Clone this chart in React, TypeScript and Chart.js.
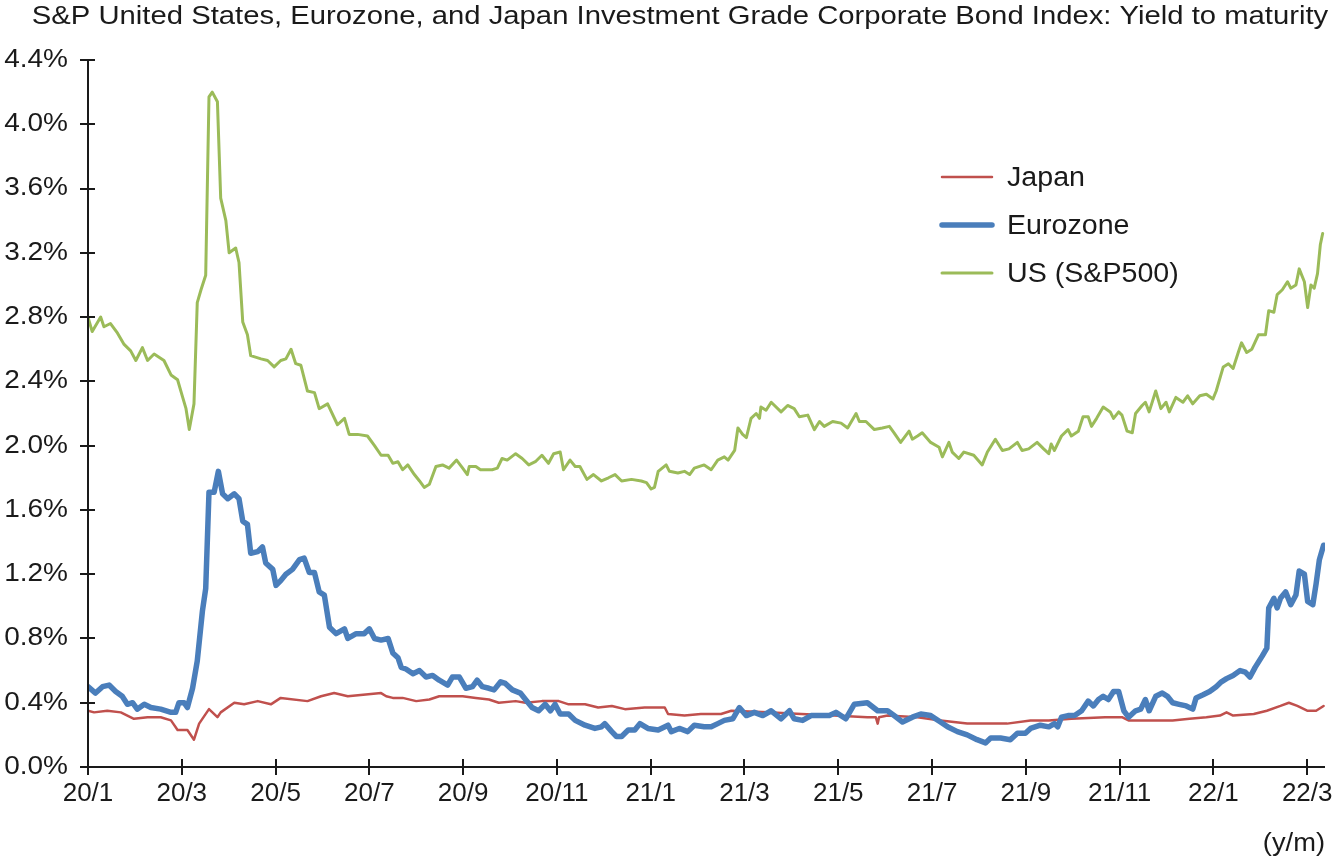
import { useEffect, useRef } from 'react';
import { Chart, registerables } from 'chart.js';

Chart.register(...registerables);

const TITLE = 'S&P United States, Eurozone, and Japan Investment Grade Corporate Bond Index: Yield to maturity';
const X_UNIT = '(y/m)';
const FONT = '"Liberation Sans", Arial, Helvetica, sans-serif';

const tickMonths = [0, 2, 4, 6, 8, 10, 12, 14, 16, 18, 20, 22, 24, 26];
const tickLabels = ['20/1', '20/3', '20/5', '20/7', '20/9', '20/11', '21/1', '21/3', '21/5', '21/7', '21/9', '21/11', '22/1', '22/3'];
const yTicks = [0, 0.4, 0.8, 1.2, 1.6, 2.0, 2.4, 2.8, 3.2, 3.6, 4.0, 4.4];

const seriesNames = ['Japan', 'Eurozone', 'US (S&P500)'];
const seriesColors = ['#C0504D', '#4A7EBB', '#9BBB59'];
const seriesWidths = [2.5, 5.5, 3];

// Months since 2020/1
const jpMonths = [0.00, 0.13, 0.41, 0.70, 0.98, 1.27, 1.55, 1.77, 1.91, 2.12, 2.26, 2.37, 2.58, 2.76, 2.83, 3.12, 3.33, 3.62, 3.90, 4.11, 4.68, 4.97, 5.25, 5.54, 6.25,
  6.36, 6.50, 6.71, 7.00, 7.28, 7.49, 7.77, 7.99, 8.27, 8.55, 8.76, 9.12, 9.33, 9.68, 10.04, 10.25, 10.60, 10.88, 11.17, 11.45, 11.87, 12.30, 12.37, 12.72, 13.07, 13.36,
  13.50, 13.72, 14.50, 15.21, 15.91, 16.62, 16.80, 16.84, 16.87, 17.05, 17.69, 18.18, 18.75, 19.18, 19.60, 20.10, 20.49,
  20.97, 21.69, 22.05, 22.19, 22.77, 23.13, 23.49, 23.85, 24.14, 24.28, 24.42, 24.86, 25.14, 25.43, 25.61, 25.79, 26.01, 26.19, 26.35];
const jpValues = [0.35, 0.34, 0.35, 0.34, 0.30, 0.31, 0.31, 0.29, 0.23, 0.23, 0.17, 0.27, 0.36, 0.31, 0.34, 0.40, 0.39, 0.41, 0.39, 0.43, 0.41, 0.44, 0.46, 0.44, 0.46,
  0.44, 0.43, 0.43, 0.41, 0.42, 0.44, 0.44, 0.44, 0.43, 0.42, 0.40, 0.41, 0.40, 0.41, 0.41, 0.39, 0.39, 0.37, 0.38, 0.36, 0.37, 0.37, 0.33, 0.32, 0.33, 0.33,
  0.33, 0.35, 0.34, 0.33, 0.32, 0.31, 0.31, 0.27, 0.31, 0.32, 0.31, 0.29, 0.27, 0.27, 0.27, 0.29, 0.29,
  0.30, 0.31, 0.31, 0.29, 0.29, 0.29, 0.30, 0.31, 0.32, 0.34, 0.32, 0.33, 0.35, 0.38, 0.40, 0.38, 0.35, 0.35, 0.38];

const euMonths = [0.00, 0.16, 0.31, 0.45, 0.59, 0.73, 0.84, 0.95, 1.05, 1.20, 1.34, 1.55, 1.77, 1.87, 1.94, 2.05, 2.12, 2.23, 2.33, 2.44, 2.51, 2.58, 2.69, 2.78, 2.87, 2.98,
  3.12, 3.22, 3.30, 3.40, 3.47, 3.62, 3.72, 3.79, 3.94, 4.01, 4.11, 4.22, 4.36, 4.51, 4.61, 4.72, 4.83, 4.93, 5.04, 5.15, 5.29, 5.47, 5.54, 5.72, 5.89, 6.00, 6.11, 6.25,
  6.40, 6.50, 6.61, 6.68, 6.78, 6.93, 7.07, 7.21, 7.35, 7.49, 7.67, 7.77, 7.92, 8.06, 8.20, 8.30, 8.41, 8.55, 8.66, 8.80, 8.90, 9.05, 9.22, 9.33, 9.47, 9.61, 9.75,
  9.86, 9.96, 10.07, 10.25, 10.39, 10.60, 10.81, 10.95, 11.02, 11.17, 11.27, 11.38, 11.52, 11.66, 11.77, 11.94, 12.16, 12.37, 12.44, 12.61, 12.79, 12.93, 13.14, 13.29, 13.43,
  13.57, 13.75, 13.89, 14.04, 14.21, 14.39, 14.57, 14.78, 14.96, 15.06, 15.24, 15.42, 15.63, 15.81, 15.95, 16.16, 16.34, 16.62, 16.84, 17.05, 17.19, 17.37, 17.58, 17.76,
  17.97, 18.18, 18.33, 18.54, 18.75, 18.96, 19.14, 19.25, 19.46, 19.67, 19.82, 19.99, 20.10, 20.31, 20.49,
  20.61, 20.68, 20.76, 20.90, 21.04, 21.19, 21.33, 21.44, 21.55, 21.65, 21.76, 21.87, 21.98, 22.09, 22.19, 22.34, 22.45, 22.55, 22.63, 22.77, 22.91, 23.02, 23.13, 23.27,
  23.42, 23.56, 23.63, 23.78, 23.92, 24.06, 24.17, 24.28, 24.42, 24.57, 24.68, 24.78, 24.89, 25.04, 25.14, 25.18, 25.29, 25.36, 25.43, 25.54, 25.65, 25.76, 25.83, 25.94,
  26.01, 26.12, 26.19, 26.26, 26.35];
const euValues = [0.50, 0.46, 0.50, 0.51, 0.47, 0.44, 0.39, 0.40, 0.36, 0.39, 0.37, 0.36, 0.34, 0.34, 0.40, 0.40, 0.37, 0.49, 0.66, 0.97, 1.11, 1.71, 1.71, 1.84, 1.70, 1.67,
  1.70, 1.67, 1.53, 1.51, 1.33, 1.34, 1.37, 1.27, 1.23, 1.13, 1.16, 1.20, 1.23, 1.29, 1.30, 1.21, 1.21, 1.09, 1.07, 0.87, 0.83, 0.86, 0.80, 0.83, 0.83, 0.86, 0.80, 0.79,
  0.80, 0.71, 0.68, 0.62, 0.61, 0.58, 0.60, 0.56, 0.57, 0.54, 0.51, 0.56, 0.56, 0.49, 0.50, 0.54, 0.50, 0.49, 0.48, 0.53, 0.52, 0.48, 0.46, 0.42, 0.37, 0.35, 0.39,
  0.35, 0.39, 0.33, 0.33, 0.29, 0.26, 0.24, 0.25, 0.27, 0.22, 0.19, 0.19, 0.23, 0.23, 0.27, 0.24, 0.23, 0.26, 0.22, 0.24, 0.22, 0.26, 0.25, 0.25, 0.27,
  0.29, 0.30, 0.37, 0.32, 0.34, 0.32, 0.35, 0.30, 0.35, 0.30, 0.29, 0.32, 0.32, 0.32, 0.34, 0.30, 0.39, 0.40, 0.35, 0.35, 0.32, 0.28, 0.31, 0.33,
  0.32, 0.28, 0.25, 0.22, 0.20, 0.17, 0.15, 0.18, 0.18, 0.17, 0.21, 0.21, 0.24, 0.26, 0.25,
  0.27, 0.25, 0.31, 0.32, 0.32, 0.35, 0.41, 0.38, 0.42, 0.44, 0.42, 0.47, 0.47, 0.35, 0.31, 0.35, 0.36, 0.42, 0.35, 0.44, 0.46, 0.44, 0.40, 0.39,
  0.38, 0.36, 0.43, 0.45, 0.47, 0.50, 0.53, 0.55, 0.57, 0.60, 0.59, 0.56, 0.62, 0.69, 0.74, 0.99, 1.05, 0.99, 1.05, 1.09, 1.01, 1.07, 1.22, 1.20,
  1.03, 1.01, 1.14, 1.29, 1.38];

const usMonths = [0.00, 0.09, 0.27, 0.34, 0.48, 0.63, 0.77, 0.91, 1.02, 1.16, 1.27, 1.41, 1.62, 1.77, 1.91, 2.01, 2.09, 2.16, 2.26, 2.33, 2.41, 2.51, 2.58, 2.65, 2.76,
  2.83, 2.94, 3.01, 3.15, 3.22, 3.30, 3.40, 3.47, 3.69, 3.83, 3.97, 4.11, 4.22, 4.33, 4.43, 4.54, 4.68, 4.83, 4.93, 5.11, 5.32, 5.47, 5.57, 5.75, 5.96, 6.11, 6.25,
  6.40, 6.50, 6.61, 6.71, 6.82, 6.96, 7.07, 7.17, 7.28, 7.42, 7.56, 7.70, 7.86, 7.99, 8.09, 8.13, 8.27, 8.37, 8.62, 8.73, 8.83, 8.94, 9.12, 9.26, 9.40, 9.54, 9.68,
  9.82, 9.93, 10.07, 10.14, 10.28, 10.39, 10.49, 10.64, 10.78, 10.95, 11.10, 11.24, 11.38, 11.59, 11.80, 11.91, 12.01, 12.08, 12.16, 12.33, 12.40, 12.58, 12.72, 12.83,
  12.93, 13.14, 13.29, 13.43,
  13.57, 13.65, 13.79, 13.86, 13.96, 14.04, 14.14, 14.25, 14.32, 14.35, 14.46, 14.57, 14.78, 14.92, 15.06, 15.17, 15.35, 15.49, 15.60, 15.70, 15.88, 16.06, 16.20,
  16.38, 16.45, 16.59, 16.77, 16.94, 17.09, 17.19, 17.33, 17.51, 17.58, 17.69, 17.79, 17.97, 18.15, 18.22, 18.36, 18.43, 18.57, 18.68, 18.89, 19.07, 19.18, 19.35,
  19.50, 19.64, 19.82, 19.92, 20.06, 20.24, 20.38, 20.49,
  20.54, 20.61, 20.76, 20.90, 20.97, 21.12, 21.22, 21.33, 21.40, 21.51, 21.65, 21.80, 21.87, 21.98, 22.05, 22.16, 22.27, 22.34, 22.48, 22.55, 22.63, 22.77, 22.88,
  22.99, 23.06, 23.20, 23.35, 23.45, 23.56, 23.71, 23.85, 23.99, 24.06, 24.21, 24.32, 24.42, 24.53, 24.60, 24.71, 24.82, 24.96, 25.11, 25.18, 25.29, 25.36, 25.47,
  25.58, 25.65, 25.76, 25.83, 25.94, 26.01, 26.08, 26.15, 26.22, 26.28, 26.33];
const usValues = [2.80, 2.71, 2.80, 2.74, 2.76, 2.70, 2.63, 2.59, 2.53, 2.61, 2.53, 2.57, 2.53, 2.44, 2.41, 2.31, 2.23, 2.10, 2.26, 2.89, 2.97, 3.06, 4.17, 4.20, 4.14,
  3.54, 3.40, 3.20, 3.23, 3.14, 2.77, 2.69, 2.56, 2.54, 2.53, 2.49, 2.53, 2.54, 2.60, 2.51, 2.50, 2.34, 2.33, 2.23, 2.26, 2.13, 2.17, 2.07, 2.07, 2.06, 2.00, 1.94,
  1.94, 1.89, 1.90, 1.85, 1.88, 1.82, 1.78, 1.74, 1.76, 1.87, 1.88, 1.86, 1.91, 1.86, 1.82, 1.87, 1.87, 1.85, 1.85, 1.86, 1.92, 1.91, 1.95, 1.92, 1.88, 1.90, 1.94,
  1.89, 1.95, 1.96, 1.85, 1.91, 1.87, 1.87, 1.79, 1.82, 1.78, 1.80, 1.82, 1.78, 1.79, 1.78, 1.77, 1.73, 1.74, 1.84, 1.88, 1.84, 1.83, 1.84, 1.82,
  1.86, 1.88, 1.85, 1.91,
  1.93, 1.91, 1.97, 2.11, 2.07, 2.05, 2.17, 2.20, 2.17, 2.24, 2.22, 2.27, 2.21, 2.25, 2.23, 2.18, 2.19, 2.10, 2.15, 2.12, 2.15, 2.14, 2.11,
  2.20, 2.15, 2.15, 2.10, 2.11, 2.12, 2.08, 2.02, 2.09, 2.04, 2.06, 2.08, 2.02, 1.99, 1.93, 2.02, 1.96, 1.92, 1.96, 1.94, 1.88, 1.96, 2.04,
  1.97, 1.98, 2.02, 1.97, 1.98, 2.02, 1.98, 1.95,
  2.01, 1.97, 2.06, 2.10, 2.06, 2.09, 2.18, 2.18, 2.12, 2.17, 2.24, 2.21, 2.17, 2.21, 2.19, 2.09, 2.08, 2.20, 2.25, 2.27, 2.21, 2.34, 2.23,
  2.27, 2.21, 2.30, 2.27, 2.31, 2.26, 2.31, 2.32, 2.29, 2.34, 2.49, 2.51, 2.48, 2.58, 2.64, 2.58, 2.60, 2.69, 2.69, 2.84, 2.83, 2.94, 2.97,
  3.02, 2.98, 3.00, 3.10, 3.02, 2.86, 3.00, 2.98, 3.07, 3.25, 3.32];

const seriesMonths = [jpMonths, euMonths, usMonths];
const seriesValues = [jpValues, euValues, usValues];

function drawText(ctx: CanvasRenderingContext2D, text: string, x: number, y: number, size: number, align: CanvasTextAlign, baseline: CanvasTextBaseline, sx: number) {
  ctx.save();
  ctx.translate(x, y);
  ctx.scale(sx, 1);
  ctx.font = `${size}px ${FONT}`;
  ctx.textAlign = align;
  ctx.textBaseline = baseline;
  ctx.fillStyle = '#1a1a1a';
  ctx.fillText(text, 0, 0);
  ctx.restore();
}

const decorPlugin = {
  id: 'decor',
  afterDatasetsDraw(chart: any) {
    const { ctx, chartArea, scales } = chart;
    const { left, right, top, bottom } = chartArea;
    const x = scales.x;
    const y = scales.y;
    ctx.save();
    ctx.strokeStyle = '#1a1a1a';
    ctx.lineWidth = 2;
    ctx.lineCap = 'butt';
    ctx.beginPath();
    ctx.moveTo(left, top);
    ctx.lineTo(left, bottom);
    ctx.moveTo(left - 8, bottom);
    ctx.lineTo(right, bottom);
    for (const v of yTicks) {
      const py = Math.round(y.getPixelForValue(v));
      ctx.moveTo(left - 8, py);
      ctx.lineTo(left + 7, py);
    }
    for (const m of tickMonths) {
      const px = Math.round(x.getPixelForValue(m));
      ctx.moveTo(px, bottom - 8);
      ctx.lineTo(px, bottom + 8);
    }
    ctx.stroke();
    ctx.restore();

    // tick labels
    for (const v of yTicks) {
      drawText(ctx, v.toFixed(1) + '%', left - 20, y.getPixelForValue(v), 25, 'right', 'middle', 1.12);
    }
    tickMonths.forEach((m, i) => {
      drawText(ctx, tickLabels[i], x.getPixelForValue(m), bottom + 27, 26, 'center', 'middle', 1.0);
    });

    // title and unit
    drawText(ctx, TITLE, 680, 24, 25, 'center', 'alphabetic', 1.17);
    drawText(ctx, X_UNIT, right, 851, 26, 'right', 'alphabetic', 1.05);

    // legend
    const ds = chart.data.datasets;
    const lx0 = 942, lx1 = 992, tx = 1007;
    const ly = [177, 225, 273];
    for (let i = 0; i < seriesNames.length; i++) {
      const d = ds[i];
      ctx.save();
      ctx.strokeStyle = d.borderColor;
      ctx.lineWidth = d.borderWidth;
      ctx.lineCap = 'round';
      ctx.beginPath();
      ctx.moveTo(lx0, ly[i]);
      ctx.lineTo(lx1, ly[i]);
      ctx.stroke();
      ctx.restore();
      drawText(ctx, seriesNames[i], tx, ly[i] + 9, 27, 'left', 'alphabetic', 1.06);
    }
  },
};

export default function App() {
  const ref = useRef<HTMLCanvasElement>(null);

  useEffect(() => {
    document.body.style.margin = '0';
    const canvas = ref.current;
    if (!canvas) return;
    const datasets = seriesNames.map((name, i) => ({
      label: name,
      data: seriesMonths[i].map((m, k) => ({ x: m, y: seriesValues[i][k] })),
      borderColor: seriesColors[i],
      backgroundColor: seriesColors[i],
      borderWidth: seriesWidths[i],
      pointRadius: 0,
      tension: 0,
      borderJoinStyle: 'round' as const,
      borderCapStyle: 'round' as const,
      order: i === 1 ? 0 : i === 0 ? 1 : 2,
    }));
    const chart = new Chart(canvas, {
      type: 'line',
      data: { datasets },
      options: {
        animation: false,
        responsive: false,
        devicePixelRatio: 1,
        layout: { padding: { left: 0, top: 60, right: 10, bottom: 0 } },
        plugins: { legend: { display: false }, tooltip: { enabled: false }, title: { display: false } },
        scales: {
          x: {
            type: 'linear',
            min: 0,
            max: 26.38,
            grid: { display: false, drawTicks: false },
            border: { display: false },
            afterBuildTicks: (s: any) => { s.ticks = tickMonths.map((v) => ({ value: v })); },
            afterFit: (s: any) => { s.height = 92; s.paddingLeft = 0; s.paddingRight = 0; },
            ticks: { display: false },
          },
          y: {
            type: 'linear',
            min: 0,
            max: 4.4,
            grid: { display: false, drawTicks: false },
            border: { display: false },
            afterBuildTicks: (s: any) => { s.ticks = yTicks.map((v) => ({ value: v })); },
            afterFit: (s: any) => { s.width = 88; s.paddingTop = 0; s.paddingBottom = 0; },
            ticks: { display: false },
          },
        },
      },
      plugins: [decorPlugin],
    });
    return () => chart.destroy();
  }, []);

  return (
    <div style={{ position: 'absolute', left: 0, top: 0, width: 1335, height: 859 }}>
      <canvas ref={ref} width={1335} height={859} style={{ display: 'block' }} />
    </div>
  );
}
